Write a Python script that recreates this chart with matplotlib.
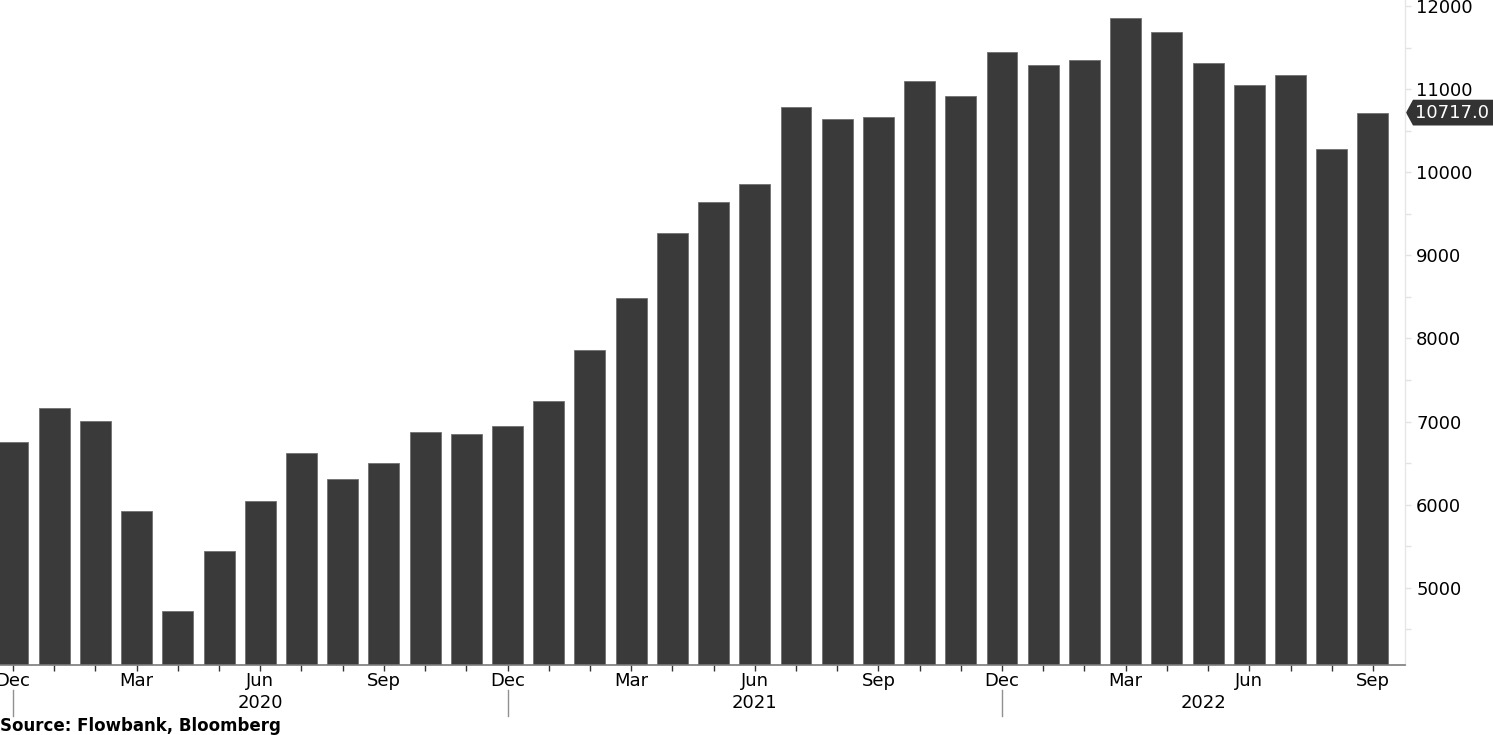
"""Monthly bar chart, Dec 2019 - Sep 2022, Bloomberg-style with right axis."""

import matplotlib

matplotlib.use("Agg")
import matplotlib.pyplot as plt
from matplotlib.patches import Polygon
from matplotlib.transforms import blended_transform_factory
import numpy as np

MONTHS = [
    "Dec", "Jan", "Feb", "Mar", "Apr", "May", "Jun", "Jul", "Aug", "Sep", "Oct", "Nov",
    "Dec", "Jan", "Feb", "Mar", "Apr", "May", "Jun", "Jul", "Aug", "Sep", "Oct", "Nov",
    "Dec", "Jan", "Feb", "Mar", "Apr", "May", "Jun", "Jul", "Aug", "Sep",
]
VALUES = [
    6750, 7159, 7010, 5927, 4716, 5445, 6040, 6625, 6312, 6497, 6874, 6853,
    6942, 7241, 7860, 8486, 9265, 9638, 9856, 10781, 10637, 10668, 11094, 10921,
    11444, 11290, 11347, 11859, 11687, 11314, 11049, 11173, 10279, 10717,
]
YEARS = ["2020", "2021", "2022"]
YEAR_BREAKS = [0, 12, 24]  # index of each December separator
Y_TICKS = [5000, 6000, 7000, 8000, 9000, 10000, 11000, 12000]
LAST_LABEL = "10717.0"

BAR = "#3a3a3a"
FS = 13

fig = plt.figure(figsize=(14.93, 7.35), dpi=100)
ax = fig.add_axes([0.0, 0.0952, 0.9411, 0.9048])

x = np.arange(len(VALUES))
ax.bar(x, VALUES, width=0.75, color=BAR, edgecolor="#707070", linewidth=0.6)

x_lo, x_hi = -0.316, len(VALUES) - 1 + 0.78
ax.set_xlim(x_lo, x_hi)
ax.set_ylim(4070, 12072)

for side in ("top", "left"):
    ax.spines[side].set_visible(False)
ax.spines["bottom"].set_color("#7a7a7a")
ax.spines["bottom"].set_linewidth(1.2)
ax.spines["right"].set_color("#e6e6e6")
ax.spines["right"].set_linewidth(1.0)

# x axis: month ticks every month, labels each quarter
major = [i for i, m in enumerate(MONTHS) if m in ("Dec", "Mar", "Jun", "Sep")]
ax.set_xticks(major)
ax.set_xticklabels([MONTHS[i] for i in major], fontsize=FS)
ax.set_xticks(x, minor=True)
ax.tick_params(axis="x", which="both", direction="out", length=4, width=1,
               color="#333333", pad=1)

# y axis on the right
ax.yaxis.tick_right()
ax.set_yticks(Y_TICKS)
ax.set_yticklabels([str(t) for t in Y_TICKS], fontsize=FS)
ax.set_yticks(np.arange(4500, 12001, 500), minor=True)
ax.tick_params(axis="y", which="both", direction="out", length=4, width=1,
               color="#e2e2e2", pad=4)

# year labels and separators below the month labels
trans = blended_transform_factory(ax.transData, ax.transAxes)
bounds = YEAR_BREAKS + [x_hi]
for yr, a, b in zip(YEARS, bounds[:-1], bounds[1:]):
    ax.text((a + b) / 2, -0.057, yr, transform=trans, ha="center", va="center",
            fontsize=FS)
for b in YEAR_BREAKS:
    ax.plot([b, b], [-0.038, -0.076], transform=trans, color="#909090", lw=1,
            clip_on=False)

# last value tag
tag = blended_transform_factory(fig.transFigure, ax.transData)
v = VALUES[-1]
h = 155
tip, left, right = 1406 / 1493, 1413 / 1493, 1.01
ax.add_patch(Polygon([(tip, v), (left, v + h), (right, v + h), (right, v - h),
                      (left, v - h)], closed=True, transform=tag,
                     facecolor="#333333", edgecolor="none", clip_on=False))
ax.text(1415 / 1493, v, LAST_LABEL, transform=tag, ha="left", va="center",
        color="white", fontsize=FS)

fig.text(0.0, 1 - 726 / 735, "Source: Flowbank, Bloomberg", ha="left",
         va="center", fontsize=12, fontweight="bold")

fig.savefig("out.png", dpi=100)
